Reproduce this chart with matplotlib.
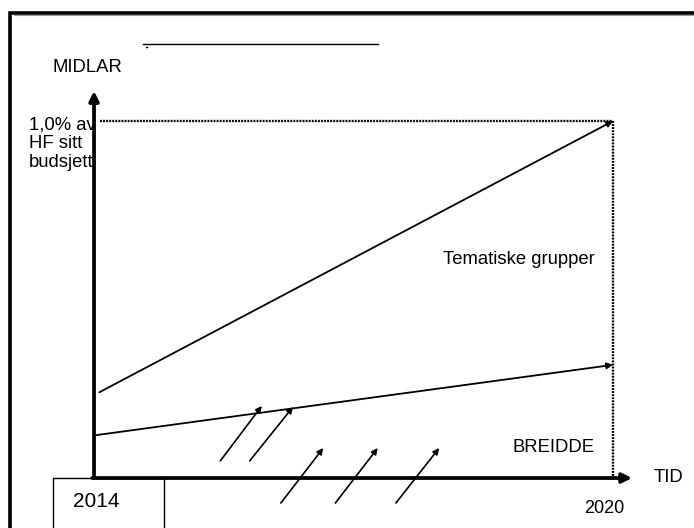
import matplotlib.pyplot as plt
from matplotlib.patches import Rectangle

plt.rcParams['font.family'] = ['Liberation Sans', 'DejaVu Sans']

# time axis: 2014 -> 2020, funding axis: 0 -> 1.0 (1,0% of HF budget)
start_year = 2014
end_year = 2020
max_share = 1.0

# the two growth lines (start, end)
tematiske_x = [2014.06, 2020]
tematiske_y = [0.24, 1.0]
breidde_x = [2014.02, 2020]
breidde_y = [0.12, 0.317]

# small "push" arrows (x0, y0, x1, y1)
push_arrows = [
    (2015.46, 0.048, 2015.94, 0.202),
    (2015.80, 0.048, 2016.30, 0.199),
    (2016.16, -0.070, 2016.65, 0.084),
    (2016.79, -0.070, 2017.28, 0.084),
    (2017.49, -0.070, 2017.99, 0.084),
]

W, H = 694, 528
fig = plt.figure(figsize=(W / 100, H / 100), dpi=100)
ax = fig.add_axes([0, 0, 1, 1])
ax.set_xlim(2012.913, 2020.936)
ax.set_ylim(-0.140, 1.339)
ax.axis('off')


def fx(px):
    return px / W


def fy(py):
    return 1 - py / H


# outer frame (goes off the right and bottom edges)
fig.add_artist(plt.Line2D([fx(14), fx(700)], [fy(14.8), fy(14.8)], lw=0.8, color='#999999'))
frame = Rectangle((fx(9.5), fy(540)), fx(720) - fx(9.5), fy(12.5) - fy(540),
                  transform=fig.transFigure, fill=False, lw=2.6, color='black',
                  joinstyle='miter')
fig.add_artist(frame)

# short line at the top
fig.add_artist(plt.Line2D([fx(143), fx(378)], [fy(44), fy(44)], lw=1.0, color='black'))
fig.add_artist(plt.Line2D([fx(146), fx(147)], [fy(47), fy(47)], lw=1.0, color='black'))

# dotted target lines
dots = (0, (0.8, 0.5))
ax.plot([start_year + 0.07, end_year], [max_share, max_share], ls=dots, lw=1.7, color='black')
ax.plot([end_year, end_year], [max_share, 0], ls=dots, lw=1.7, color='black')

# growth lines with arrow heads
for xs, ys in [(tematiske_x, tematiske_y), (breidde_x, breidde_y)]:
    ax.annotate('', xy=(xs[1], ys[1]), xytext=(xs[0], ys[0]),
                arrowprops=dict(arrowstyle='-|>', lw=1.3, color='black',
                                mutation_scale=9, shrinkA=0, shrinkB=0))

for x0, y0, x1, y1 in push_arrows:
    ax.annotate('', xy=(x1, y1), xytext=(x0, y0),
                arrowprops=dict(arrowstyle='-|>', lw=1.2, color='black',
                                mutation_scale=9, shrinkA=0, shrinkB=0))

# text on the left (under the y axis)
ax.text(fx(29), fy(117), '1,0% av\nHF sitt\nbudsjett', transform=fig.transFigure,
        fontsize=13.3, va='top', ha='left', linespacing=1.1)

# axes
ax.annotate('', xy=(start_year, 1.084), xytext=(start_year, 0),
            arrowprops=dict(arrowstyle='-|>', lw=2.7, color='black',
                            mutation_scale=14, shrinkA=0, shrinkB=0))
ax.annotate('', xy=(2020.22, 0), xytext=(start_year - 0.02, 0),
            arrowprops=dict(arrowstyle='-|>', lw=2.7, color='black',
                            mutation_scale=14, shrinkA=0, shrinkB=0))

# 2014 box
box = Rectangle((fx(53), fy(540)), fx(164) - fx(53), fy(478) - fy(540),
                transform=fig.transFigure, fill=False, lw=1.0, color='black')
fig.add_artist(box)

ax.text(start_year + 0.03, -0.065, '2014', fontsize=15, ha='center', va='center')
ax.text(end_year - 0.1, -0.084, '2020', fontsize=13, ha='center', va='center')

ax.text(fx(53), fy(67), 'MIDLAR', transform=fig.transFigure, fontsize=13.3, va='center')
ax.text(fx(654), fy(477), 'TID', transform=fig.transFigure, fontsize=13.3, va='center')
ax.text(fx(443), fy(260), 'Tematiske grupper', transform=fig.transFigure, fontsize=13.3, va='center')
ax.text(fx(513), fy(447), 'BREIDDE', transform=fig.transFigure, fontsize=13.3, va='center')

fig.savefig('out.png', dpi=100)
